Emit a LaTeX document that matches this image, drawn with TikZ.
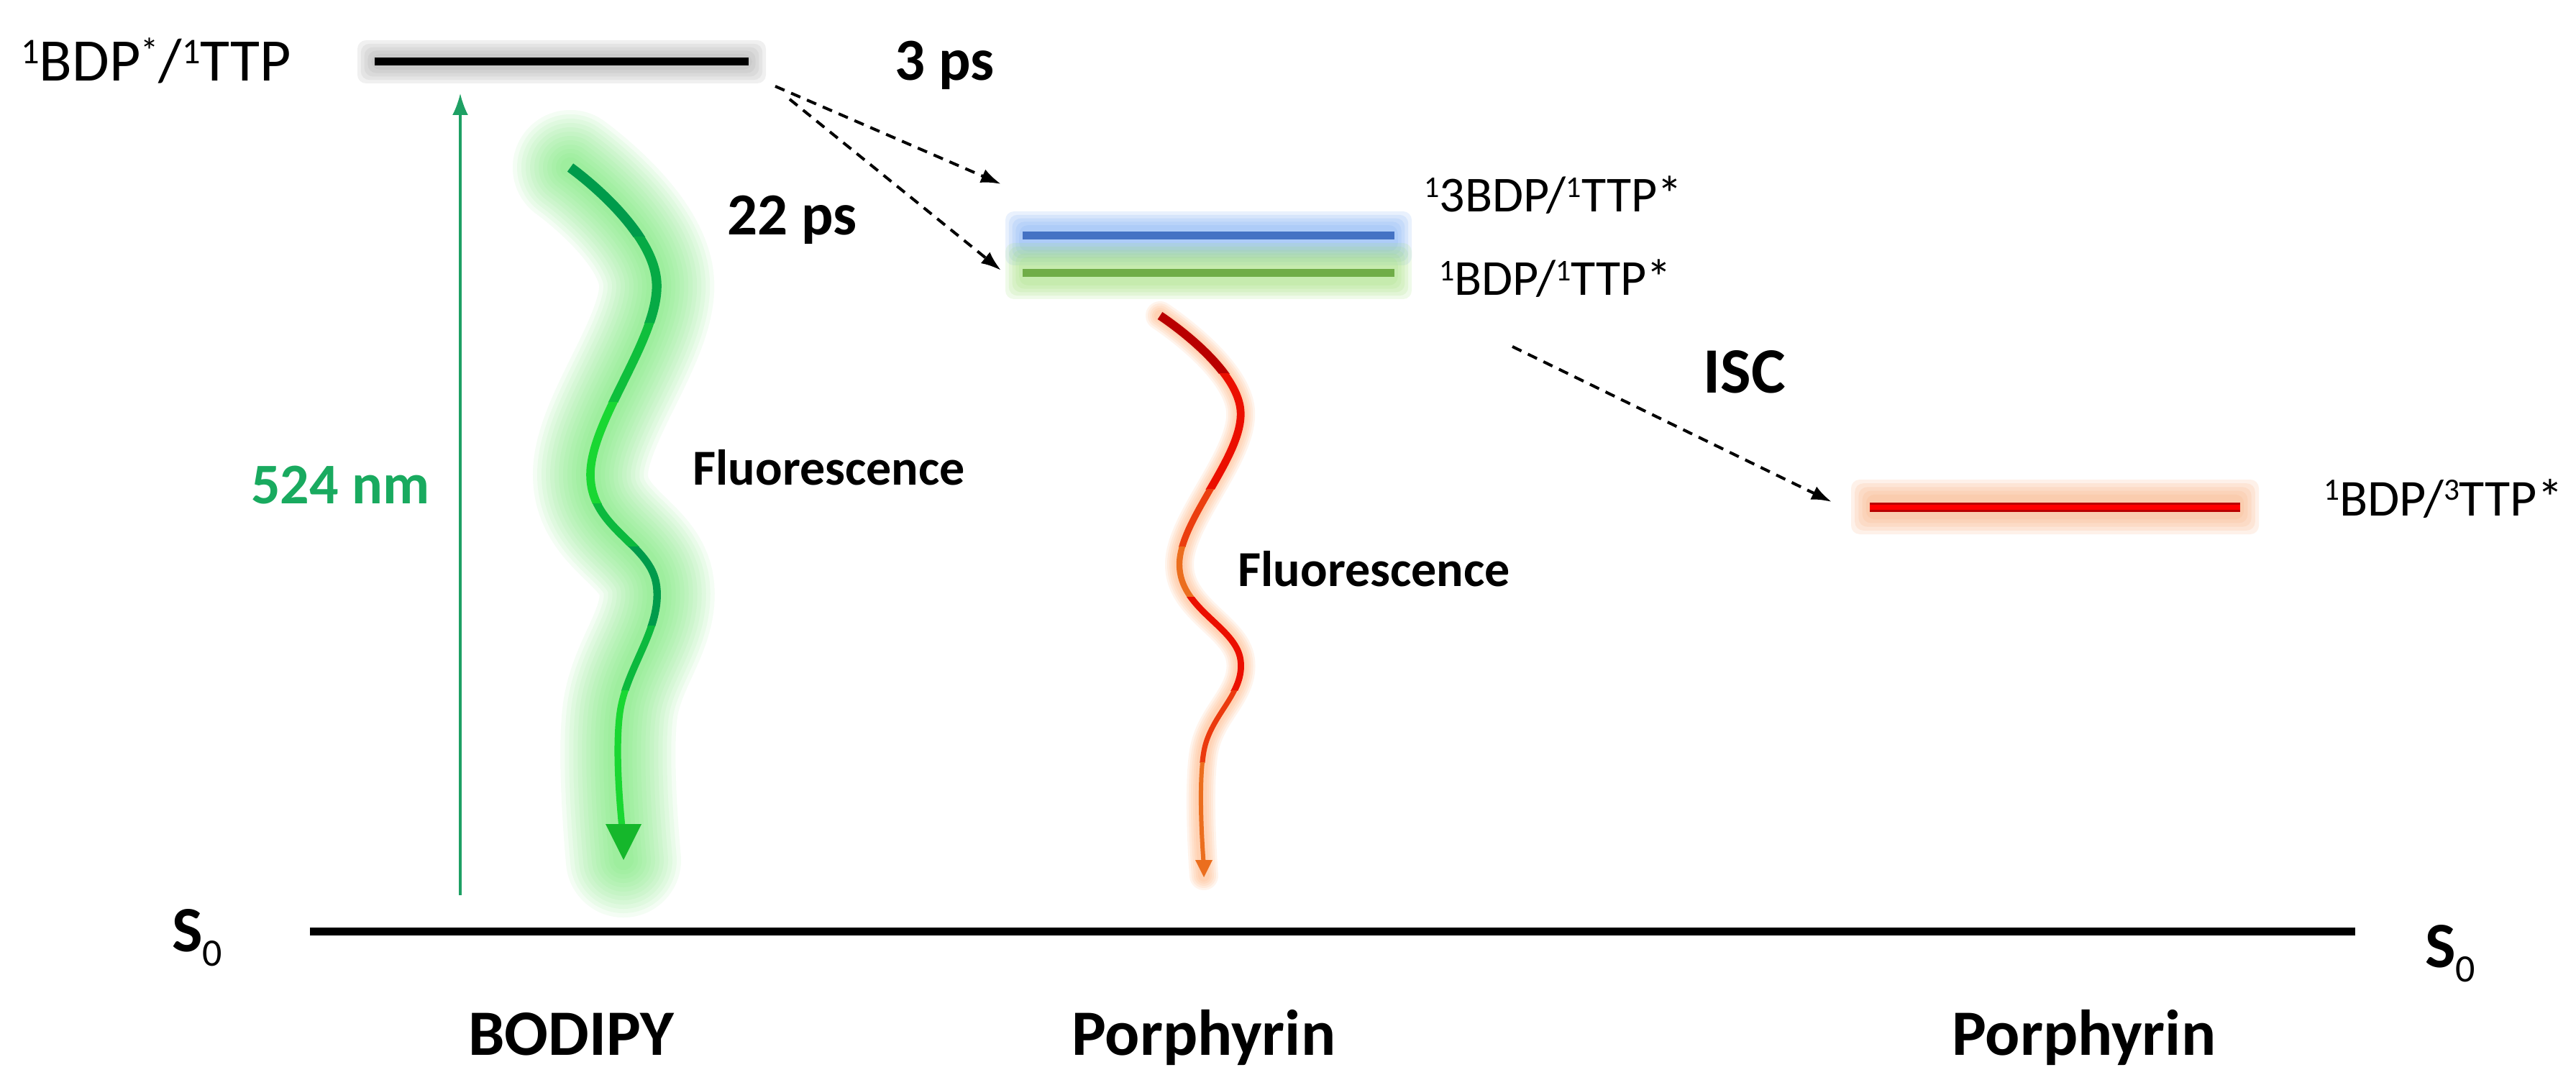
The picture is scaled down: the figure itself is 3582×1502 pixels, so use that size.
\documentclass[tikz,border=0pt]{standalone}
\usepackage{fontspec}
\usepackage{graphicx}
\setmainfont{Carlito}
\usetikzlibrary{arrows.meta}
\definecolor{exc}{RGB}{30,160,100}
\definecolor{exctext}{RGB}{25,170,95}
\definecolor{lvlblue}{RGB}{68,114,196}
\definecolor{lvlgreen}{RGB}{112,173,71}
\definecolor{glowblue}{RGB}{120,170,245}
\definecolor{glowgreen}{RGB}{160,225,120}
\definecolor{glowred}{RGB}{250,170,120}
\definecolor{glowwave}{RGB}{90,230,90}
\definecolor{glowpeach}{RGB}{255,170,110}
\definecolor{gA}{RGB}{0,155,75}
\definecolor{gB}{RGB}{25,215,50}
\definecolor{rA}{RGB}{185,0,0}
\definecolor{rB}{RGB}{235,15,0}
\definecolor{rC}{RGB}{235,110,30}
\newcommand\supx[1]{\raisebox{0.62ex}{\scalebox{0.6}{#1}}}
\newcommand\subzero{\raisebox{-10pt}{\fontsize{27}{27}\selectfont\mdseries 0}}
\newcommand\glowbox[6]{%
  \foreach \f in {1,0.8,0.6,0.4,0.2}{%
    \fill[#5, opacity=0.16, rounded corners=6pt]
      ({#1-#6*\f},{#2-#6*\f}) rectangle ({#3+#6*\f},{#4+#6*\f});}}
\tikzset{
  lbl/.style={inner sep=0pt, anchor=base west, font=\fontsize{35}{40}\selectfont},
  blbl/.style={inner sep=0pt, anchor=base west, font=\bfseries\fontsize{45}{50}\selectfont},
  fluo/.style={inner sep=0pt, anchor=base west, font=\bfseries\fontsize{35}{40}\selectfont},
  level/.style={line width=5.5pt},
  dasharrow/.style={line width=2pt, dash pattern=on 7pt off 5pt, -{Latex[length=14pt,width=10pt]}}
}
\begin{document}
\begin{tikzpicture}[x=0.5pt,y=-0.5pt]
\useasboundingbox (0,0) rectangle (3582,1502);
\fill[white] (0,0) rectangle (3582,1502);

% ---- glows of levels
\glowbox{521}{80}{1041}{92}{gray!70}{24}
\glowbox{1422}{318}{1939}{345}{glowblue}{24}
\glowbox{1422}{362}{1939}{392}{glowgreen}{24}
\glowbox{2600}{693}{3115}{717}{glowred}{26}

% ---- level coordinates
\coordinate (topL) at (521,86);   \coordinate (topR) at (1041,86);
\coordinate (blueL) at (1422,328); \coordinate (blueR) at (1939,328);
\coordinate (greenL) at (1422,380); \coordinate (greenR) at (1939,380);
\coordinate (redL) at (2600,705);  \coordinate (redR) at (3115,705);
\coordinate (s0L) at (431,1295);   \coordinate (s0R) at (3275,1295);

\draw[level, black] (topL) -- (topR);
\draw[level, lvlblue] (blueL) -- (blueR);
\draw[level, lvlgreen] (greenL) -- (greenR);
\draw[line width=6.5pt, rA] (redL) -- (redR);
\draw[line width=3.5pt, red] (redL) -- (redR);
\draw[level, black] (s0L) -- (s0R);

% ---- excitation arrow
\coordinate (excA) at (640,1245);
\coordinate (excB) at (640,130);
\draw[exc, line width=1.6pt, -{Latex[length=15pt,width=11pt]}] (excA) -- (excB);

% ---- green fluorescence wave
\foreach \w in {80pt,74pt,68pt,62pt,56pt,50pt,44pt,38pt,32pt,26pt,20pt,14pt}{
  \draw[glowwave, opacity=0.065, line width=\w, line cap=round] plot[smooth, tension=0.65] coordinates {(793,233) (913,392) (821,660) (913,815) (862,991) (867,1196)};
}
\foreach \ya/\yb/\col/\lw in {200/330/gA/7pt, 330/450/gA!75!gB/6.6pt, 450/560/gA!40!gB/6.2pt, 560/700/gB/5.8pt, 700/760/gA!50!gB/5.5pt, 760/870/gA/5.2pt, 870/960/gA!50!gB/5pt, 960/1250/gB/4.6pt}{
  \begin{scope}
    \clip (700,\ya) rectangle (1000,\yb);
    \draw[\col, line width=\lw] plot[smooth, tension=0.65] coordinates {(793,233) (913,392) (821,660) (913,815) (862,991) (866,1160)};
  \end{scope}
}
\coordinate (gtip) at (867,1196);
\fill[gB!85!black] (842,1146) -- (892,1146) -- (gtip) -- cycle;

% ---- red fluorescence wave
\foreach \w in {20pt,17pt,14pt,11pt,8pt}{
  \draw[glowpeach, opacity=0.13, line width=\w, line cap=round] plot[smooth, tension=0.65] coordinates {(1613,439) (1725,571) (1640,785) (1725,918) (1674,1045) (1674,1218)};
}
\foreach \ya/\yb/\col/\lw in {420/520/rA/6pt, 520/680/rB/5.4pt, 680/760/rB!50!rC/4.6pt, 760/830/rC/4.2pt, 830/960/rB/4.4pt, 960/1060/rB!55!rC/3.6pt, 1060/1240/rC/3pt}{
  \begin{scope}
    \clip (1550,\ya) rectangle (1800,\yb);
    \draw[\col, line width=\lw] plot[smooth, tension=0.65] coordinates {(1613,439) (1725,571) (1640,785) (1725,918) (1674,1045) (1674,1205)};
  \end{scope}
}
\coordinate (rtip) at (1674,1220);
\fill[rC] (1662,1196) -- (1686,1196) -- (rtip) -- cycle;

% ---- dashed transfer arrows
\coordinate (d1a) at (1078,120); \coordinate (d1b) at (1392,256);
\coordinate (d2a) at (1098,138); \coordinate (d2b) at (1392,376);
\coordinate (d3a) at (2103,482); \coordinate (d3b) at (2547,698);
\draw[dasharrow] (d1a) -- (d1b);
\draw[dasharrow] (d2a) -- (d2b);
\draw[dasharrow] (d3a) -- (d3b);

% ---- labels
\node[lbl, font=\fontsize{42}{46}\selectfont] (ltop) at (29,113) {\supx{1}BDP\supx{*}/\supx{1}TTP};
\node[lbl] (lblue) at (1980,295) {\supx{1}3BDP/\supx{1}TTP*};
\node[lbl] (lgreen) at (2001,411) {\supx{1}BDP/\supx{1}TTP*};
\node[lbl, font=\fontsize{36}{40}\selectfont] (lred) at (3231,717) {\supx{1}BDP/\supx{3}TTP*};
\node[blbl, font=\bfseries\fontsize{41.5}{46}\selectfont] (t3) at (1244,112) {3 ps};
\node[blbl, font=\bfseries\fontsize{41.5}{46}\selectfont] (t22) at (1011,327) {22 ps};
\node[blbl] (isc) at (2368,547) {ISC};
\node[blbl, exctext, font=\bfseries\fontsize{40}{44}\selectfont] (nm) at (349,700) {524 nm};
\node[fluo] (fl1) at (963,675) {Fluorescence};
\node[fluo] (fl2) at (1721,815) {Fluorescence};
\node[blbl] (s0a) at (239,1323) {S\subzero};
\node[blbl] (s0b) at (3372,1345) {S\subzero};
\node[blbl] (bod) at (651,1467) {BODIPY};
\node[blbl] (por1) at (1490,1467) {Porphyrin};
\node[blbl] (por2) at (2714,1467) {Porphyrin};
\end{tikzpicture}
\end{document}
